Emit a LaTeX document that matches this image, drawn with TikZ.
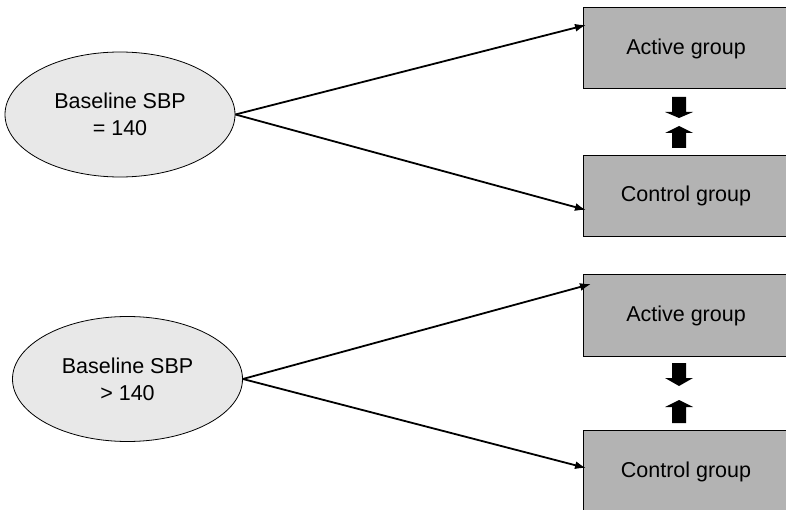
\documentclass[tikz,border=0pt]{standalone}
\usepackage{fontspec}
\setmainfont{Liberation Sans}
\usetikzlibrary{shapes.geometric,arrows.meta}
\definecolor{boxgray}{RGB}{179,179,179}
\definecolor{ovalgray}{RGB}{232,232,232}
\tikzset{
  oval/.style={ellipse, draw=black, line width=0.8pt, fill=ovalgray,
    minimum width=230pt, minimum height=125pt, inner sep=0pt, align=center,
    font=\fontsize{21.5}{27}\selectfont},
  % the boxes run past the right edge of the page; the text stays centred at x=686
  groupbox/.style={rectangle, draw=black, line width=1pt, fill=boxgray,
    minimum width=220pt, minimum height=81pt, inner sep=0pt,
    font=\fontsize{21.5}{27}\selectfont},
  conn/.style={line width=1.8pt, -{Latex[length=11pt,width=8pt]}},
  blockarrow/.style={fill=black, draw=none}
}
\newcommand{\boxtext}[1]{#1\hspace*{14pt}}
\begin{document}
\begin{tikzpicture}[x=1pt, y=-1pt]
\useasboundingbox (0,0) rectangle (786,510);

% upper study arm: SBP equal to 140
\node[oval] (base1) at (120,114.5) {Baseline SBP\\= 140};
\node[groupbox] (act1) at (693,48.5) {\boxtext{Active group}};
\node[groupbox] (ctl1) at (693,196) {\boxtext{Control group}};
\coordinate (act1in) at (586,25);
\coordinate (ctl1in) at (586,210);
\draw[conn] (base1.east) -- (act1in);
\draw[conn] (base1.east) -- (ctl1in);

% comparison arrows between the upper groups
\fill[blockarrow] (672,97) -- (686,97) -- (686,112) -- (693,112) -- (679,118)
  -- (665,112) -- (672,112) -- cycle;
\fill[blockarrow] (672,148) -- (686,148) -- (686,133) -- (693,133) -- (679,126)
  -- (665,133) -- (672,133) -- cycle;

% lower study arm: SBP above 140
\node[oval] (base2) at (127.5,379) {Baseline SBP\\> 140};
\node[groupbox] (act2) at (693,315.5) {\boxtext{Active group}};
\node[groupbox, minimum height=84pt] (ctl2) at (693,472) {\boxtext{Control group}};
\coordinate (act2in) at (591,284);
\coordinate (ctl2in) at (586,468);
\draw[conn] (base2.east) -- (act2in);
\draw[conn] (base2.east) -- (ctl2in);

% comparison arrows between the lower groups
\fill[blockarrow] (672,363) -- (686,363) -- (686,378) -- (693,378) -- (679,386)
  -- (665,378) -- (672,378) -- cycle;
\fill[blockarrow] (672,423) -- (686,423) -- (686,407) -- (693,407) -- (679,400)
  -- (665,407) -- (672,407) -- cycle;
\end{tikzpicture}
\end{document}
